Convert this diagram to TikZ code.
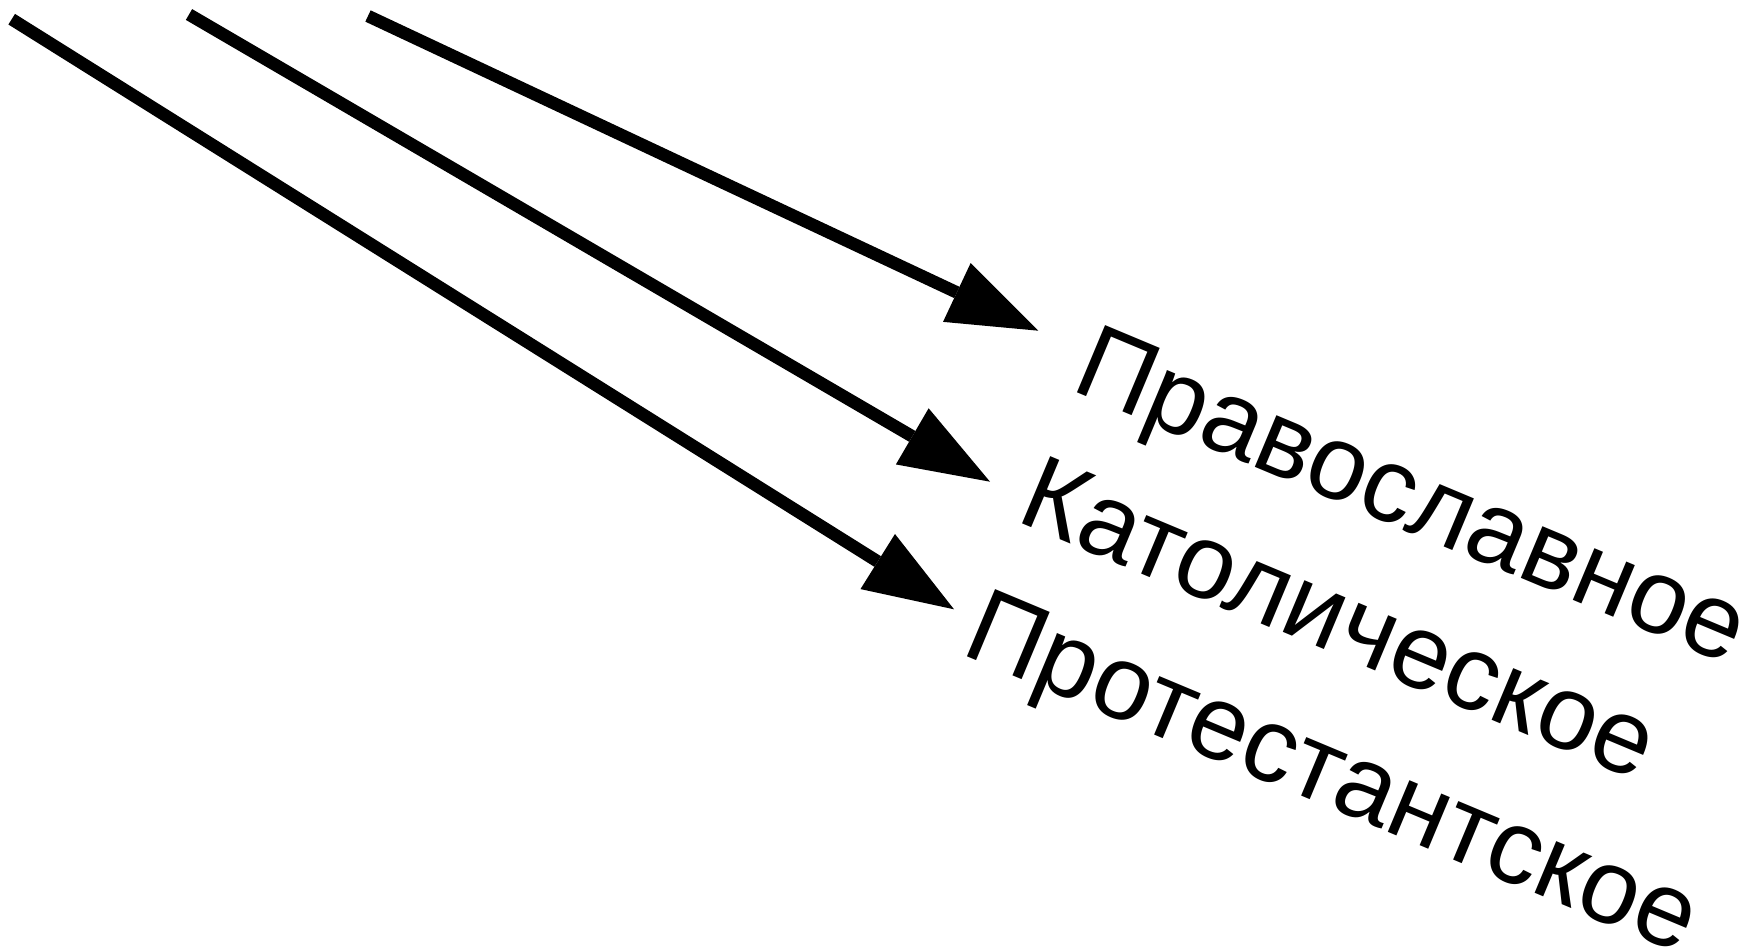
\documentclass[tikz,border=0pt]{standalone}
\usepackage{fontspec}
\setmainfont{Liberation Sans}
\usetikzlibrary{arrows.meta}
\begin{document}
\begin{tikzpicture}[x=1pt,y=-1pt,
  arr/.style={line width=12.5pt,-{Triangle[length=90pt,width=65pt,line width=0pt]}},
  lbl/.style={anchor=base west,inner sep=0pt,outer sep=0pt,rotate=-22.7,
    font=\fontsize{106pt}{127pt}\selectfont}]
\useasboundingbox (0,0) rectangle (1749,948);
\coordinate (s1) at (11.7,19.2);
\coordinate (s2) at (189,14.5);
\coordinate (s3) at (368,16);
\coordinate (t1) at (954,609.3);
\coordinate (t2) at (990,481.7);
\coordinate (t3) at (1038.3,330.7);
\draw[arr] (s1) -- (t1);
\draw[arr] (s2) -- (t2);
\draw[arr] (s3) -- (t3);
\node[lbl] (pr) at (1069.6,389.7) {Православное};
\node[lbl] (ka) at (1014.6,520.3) {Католическое};
\node[lbl] (pt) at (959.6,653.0) {Протестантское};
\end{tikzpicture}
\end{document}
